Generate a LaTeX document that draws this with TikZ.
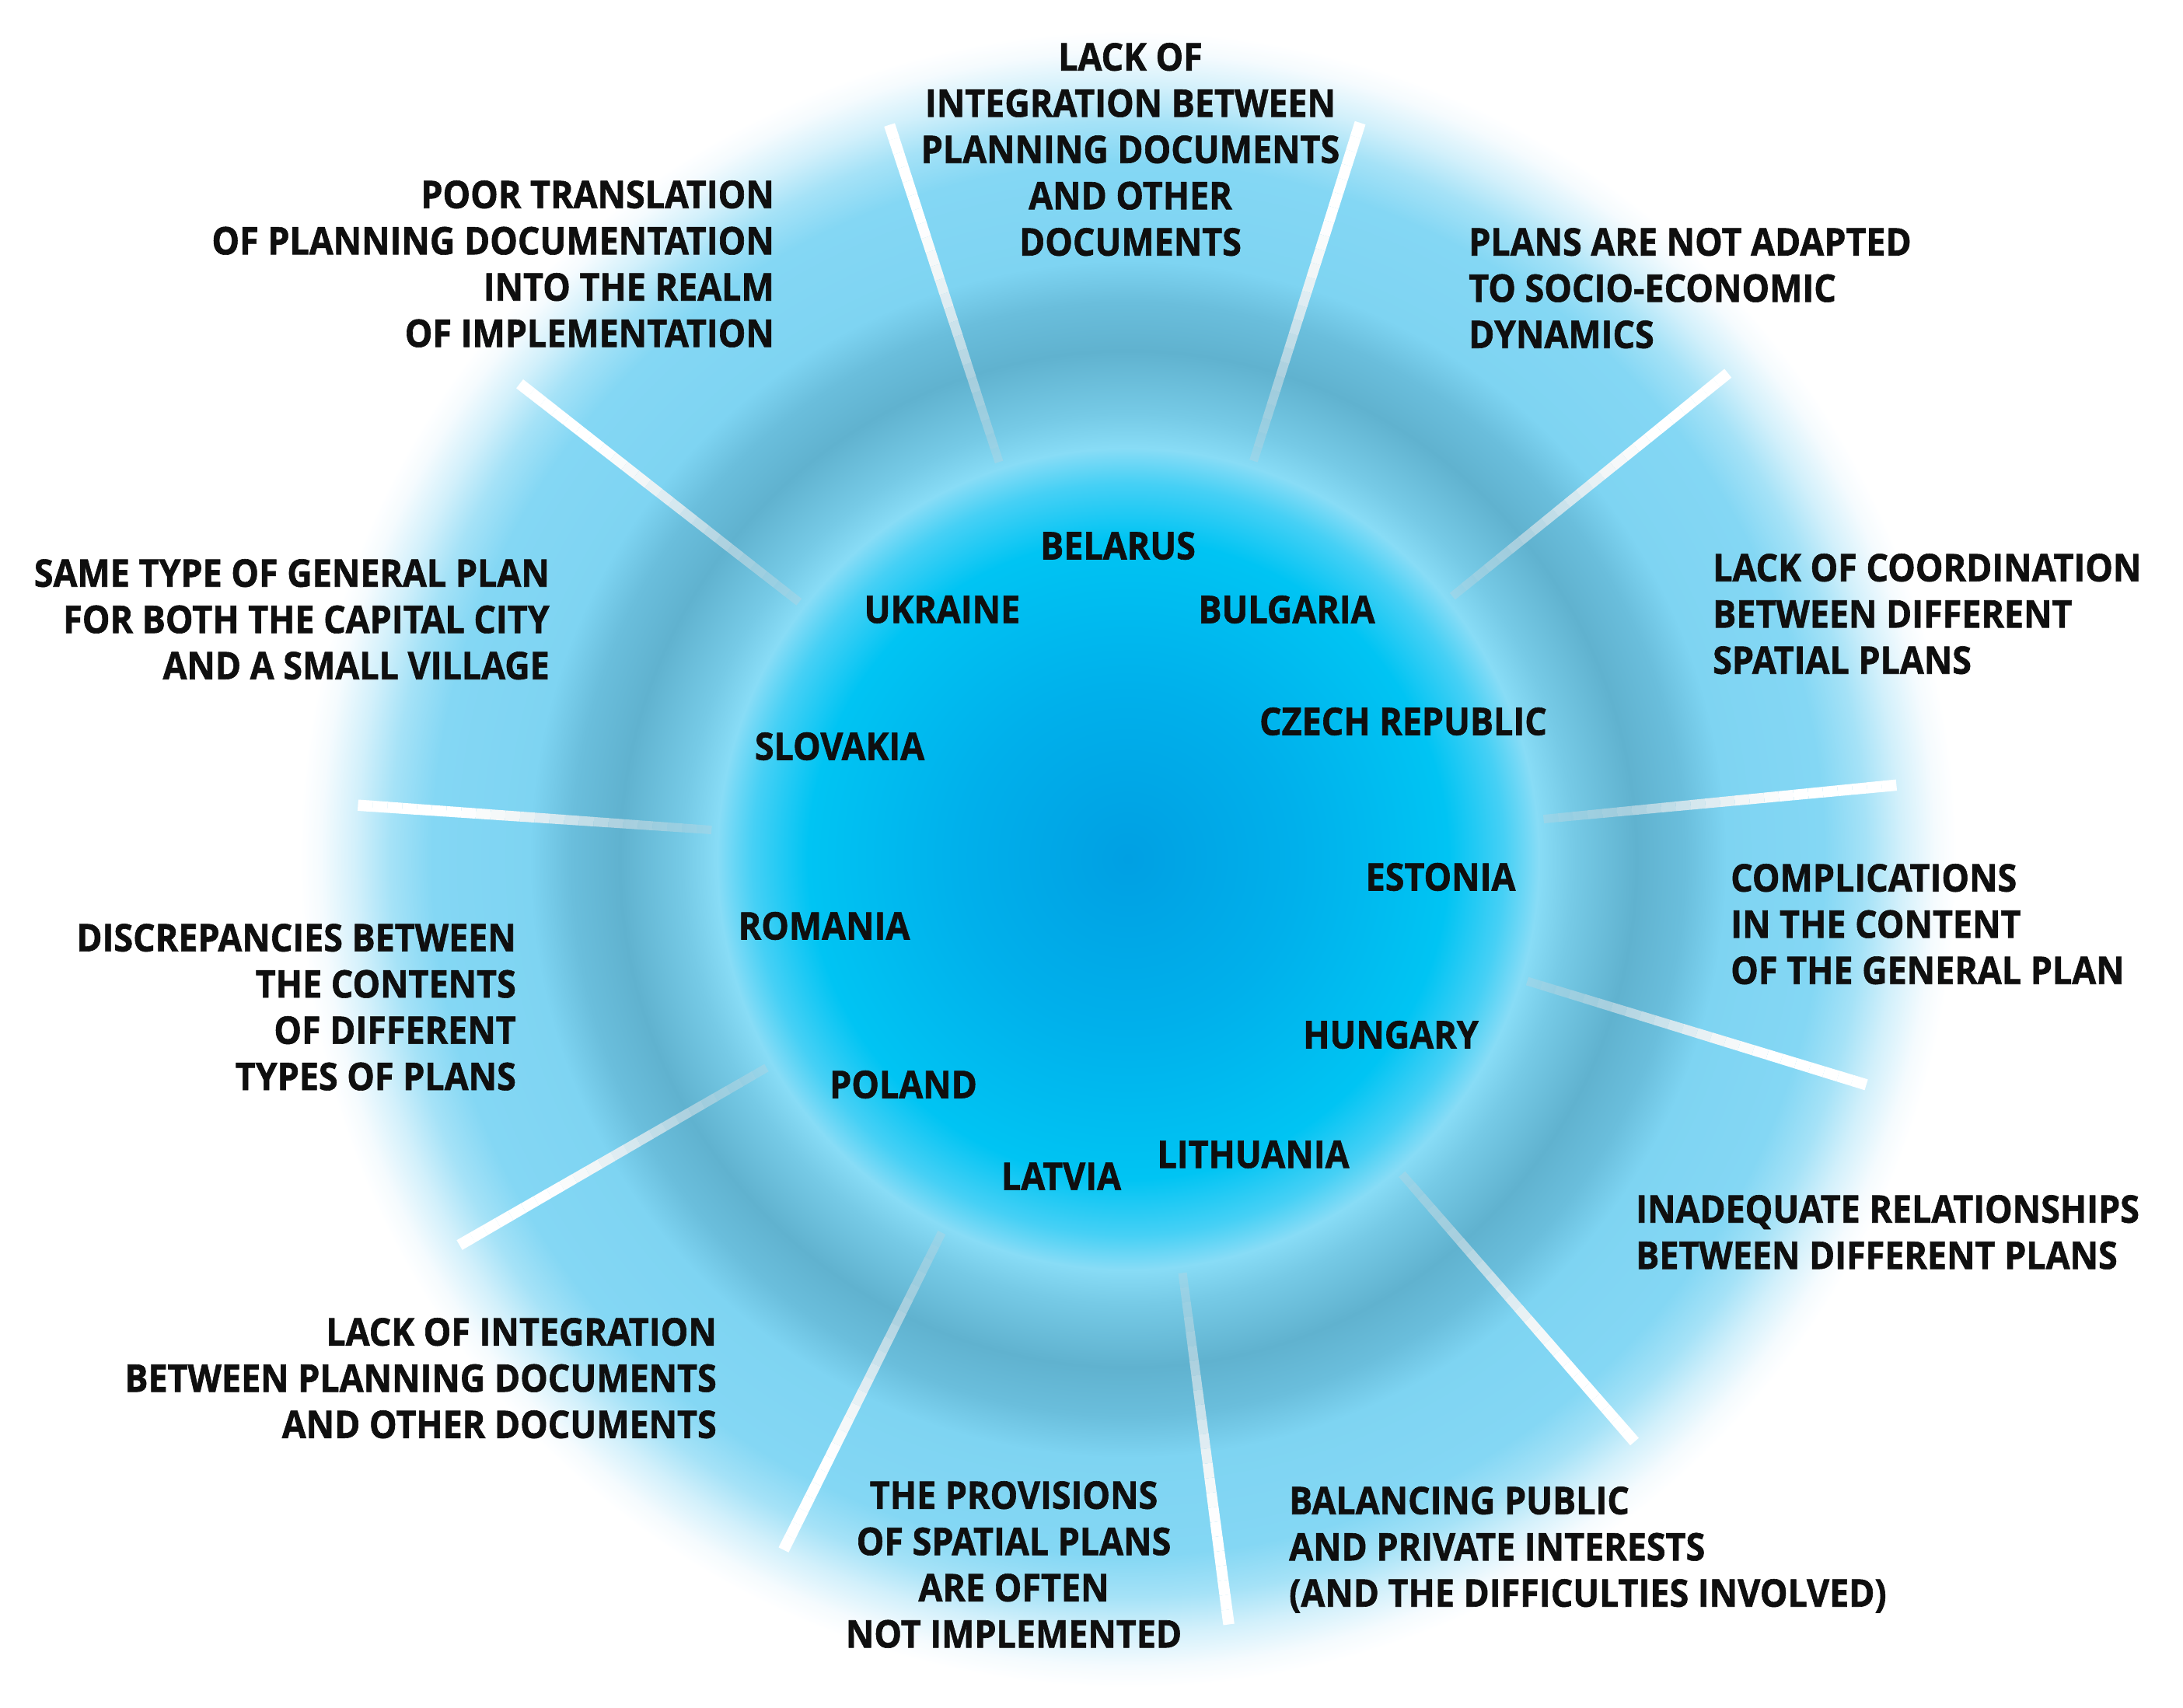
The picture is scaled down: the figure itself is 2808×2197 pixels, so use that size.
\documentclass[tikz,border=0pt]{standalone}
\usepackage{fontspec}
\setmainfont[FakeStretch=0.915, BoldFeatures={FakeBold=1.2}]{Open Sans}
\definecolor{gA}{RGB}{0,160,227}
\definecolor{gB}{RGB}{0,176,235}
\definecolor{gC}{RGB}{0,196,243}
\definecolor{gD}{RGB}{70,208,245}
\definecolor{gE}{RGB}{136,220,246}
\definecolor{gF}{RGB}{118,202,230}
\definecolor{gG}{RGB}{96,178,207}
\definecolor{gH}{RGB}{106,190,220}
\definecolor{gI}{RGB}{126,212,242}
\definecolor{gJ}{RGB}{132,215,244}
\definecolor{gK}{RGB}{165,226,247}
\definecolor{gM}{RGB}{210,240,251}
\definecolor{gL}{RGB}{245,251,254}
\definecolor{lg}{RGB}{195,212,220}
\definecolor{txt}{RGB}{15,15,15}
% radius r (shrunk px) -> 25*r/620 bp
\pgfdeclareradialshading{glow}{\pgfpoint{0bp}{0bp}}{%
color(0bp)=(gA); color(4.84bp)=(gB); color(9.27bp)=(gC); color(10.89bp)=(gD);
color(11.9bp)=(gE); color(12.9bp)=(gF); color(14.72bp)=(gG); color(16.13bp)=(gH);
color(17.34bp)=(gI); color(20.16bp)=(gJ); color(21.37bp)=(gK); color(22.38bp)=(gM);
color(23.39bp)=(gL); color(24bp)=(white); color(50bp)=(white)}
\tikzset{
  lbl/.style={font=\fontsize{49}{59.5}\selectfont\bfseries, inner sep=0pt, text=txt},
  lblL/.style={lbl, align=left, anchor=north west},
  lblR/.style={lbl, align=right, anchor=north east},
  lblC/.style={lbl, align=center, anchor=north},
  ctry/.style={lbl, anchor=center},
}
\begin{document}
\begin{tikzpicture}[x=1pt,y=-1pt]
\useasboundingbox (0,0) rectangle (2808,2197);
\fill[white] (0,0) rectangle (2808,2197);
\coordinate (c) at (1451,1105);
\shade[shading=glow] (c) circle (1110pt);
\begin{scope}[shift={(1451,1105)}]
\foreach \a in {108,72.5,39,5.5,-17,-49,-82.5,-116.5,-150,176,142} {
  \foreach \i in {0,...,23} {
    \pgfmathsetmacro\ra{537+\i*19}
    \pgfmathsetmacro\rb{\ra+19}
    \pgfmathsetmacro\p{min(100,\i*6)}
    \pgfmathsetmacro\o{min(1,0.35+\i*0.05)}
    \pgfmathsetmacro\w{11+\i*0.15}
    \draw[line width=\w pt, white!\p!lg, opacity=\o] (-\a:\ra) -- (-\a:\rb);
  }
}
\end{scope}
% outer labels
\node[lblC] (l1) at (1454,55) {LACK OF\\INTEGRATION BETWEEN\\PLANNING DOCUMENTS\\AND OTHER\\DOCUMENTS};
\node[lblR] (l2) at (996,232) {POOR TRANSLATION\\OF PLANNING DOCUMENTATION\\INTO THE REALM\\OF IMPLEMENTATION};
\node[lblL] (l3) at (1889,293) {PLANS ARE NOT ADAPTED\\TO SOCIO-ECONOMIC\\DYNAMICS};
\node[lblR] (l4) at (707,719) {SAME TYPE OF GENERAL PLAN\\FOR BOTH THE CAPITAL CITY\\AND A SMALL VILLAGE};
\node[lblL] (l5) at (2203,712) {LACK OF COORDINATION\\BETWEEN DIFFERENT\\SPATIAL PLANS};
\node[lblL] (l6) at (2226,1111) {COMPLICATIONS\\IN THE CONTENT\\OF THE GENERAL PLAN};
\node[lblR] (l7) at (664,1188) {DISCREPANCIES BETWEEN\\THE CONTENTS\\OF DIFFERENT\\TYPES OF PLANS};
\node[lblL] (l8) at (2104,1537) {INADEQUATE RELATIONSHIPS\\BETWEEN DIFFERENT PLANS};
\node[lblR] (l9) at (922,1695) {LACK OF INTEGRATION\\BETWEEN PLANNING DOCUMENTS\\AND OTHER DOCUMENTS};
\node[lblC] (l10) at (1304,1905) {THE PROVISIONS\\OF SPATIAL PLANS\\ARE OFTEN\\NOT IMPLEMENTED};
\node[lblL] (l11) at (1658,1912) {BALANCING PUBLIC\\AND PRIVATE INTERESTS\\(AND THE DIFFICULTIES INVOLVED)};
% countries
\node[ctry] (belarus) at (1438,702) {BELARUS};
\node[ctry] (ukraine) at (1212,784) {UKRAINE};
\node[ctry] (bulgaria) at (1655,784) {BULGARIA};
\node[ctry] (slovakia) at (1080,960) {SLOVAKIA};
\node[ctry] (czech) at (1805,928) {CZECH REPUBLIC};
\node[ctry] (estonia) at (1853,1128) {ESTONIA};
\node[ctry] (romania) at (1060,1191) {ROMANIA};
\node[ctry] (hungary) at (1789,1331) {HUNGARY};
\node[ctry] (poland) at (1162,1395) {POLAND};
\node[ctry] (lithuania) at (1612,1485) {LITHUANIA};
\node[ctry] (latvia) at (1365,1513) {LATVIA};
\end{tikzpicture}
\end{document}
